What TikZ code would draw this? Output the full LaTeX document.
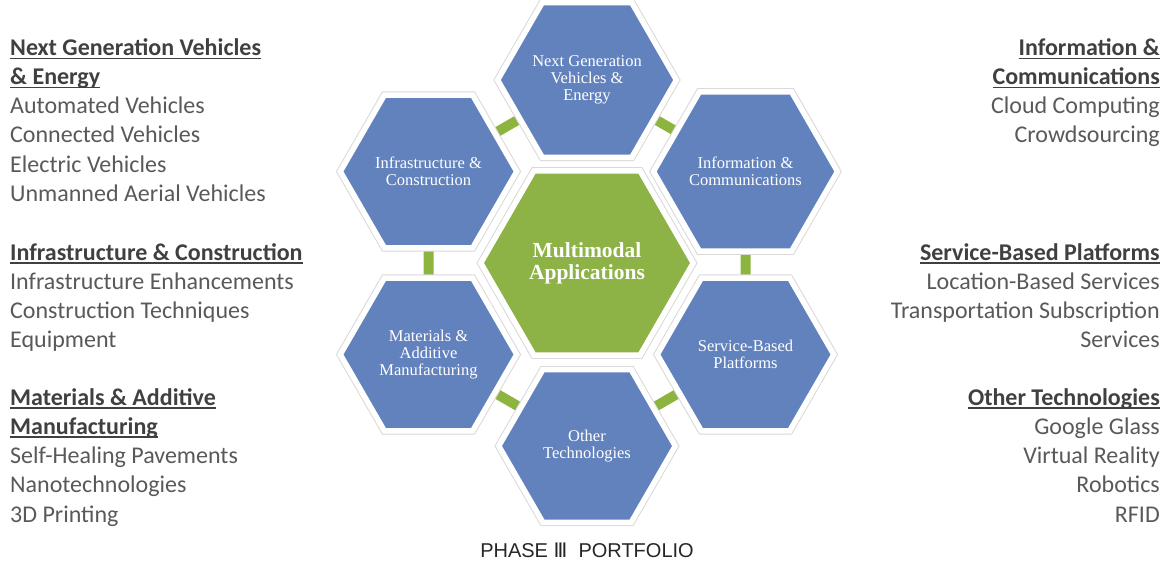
\documentclass[tikz,border=0pt]{standalone}
\usepackage{fontspec}
\setmainfont{Carlito}
\newfontfamily\hexfont{Liberation Serif}
\newfontfamily\capfont{Liberation Sans}
\newfontfamily\numfont{DejaVu Sans}
\usetikzlibrary{shapes.geometric,backgrounds}

\definecolor{hexblue}{RGB}{98,130,190}
\definecolor{hubgreen}{RGB}{141,178,70}
\definecolor{linkgreen}{RGB}{141,180,62}
\definecolor{headgray}{RGB}{64,64,64}
\definecolor{bodygray}{RGB}{89,89,89}

% heading with an underline set just below the baseline
\newsavebox\hdbox
\newcommand\hdline[1]{\sbox\hdbox{#1}\rlap{\rule[-3.5pt]{\wd\hdbox}{1.4pt}}\usebox\hdbox}

\tikzset{
  hexcell/.style={regular polygon, regular polygon sides=6, minimum size=176.5pt,
    inner sep=0pt, outer sep=0pt, fill=hexblue, draw=white, line width=5.5pt,
    preaction={draw=black!15, line width=7.5pt},
    text=white, align=center, font=\hexfont\fontsize{16.5}{17}\selectfont},
  hubcell/.style={hexcell, minimum size=212.5pt, fill=hubgreen,
    font=\hexfont\bfseries\fontsize{21.5}{22}\selectfont},
  link/.style={draw=linkgreen, line width=10pt},
  lefttext/.style={anchor=base west, inner sep=0pt, text=bodygray,
    font=\fontsize{24}{29}\selectfont},
  lefthead/.style={lefttext, text=headgray, font=\bfseries\fontsize{24}{29}\selectfont},
  righttext/.style={lefttext, anchor=base east},
  righthead/.style={lefthead, anchor=base east},
}

\begin{document}
\begin{tikzpicture}[x=1pt, y=-1pt]
\useasboundingbox (0,0) rectangle (1166,564);

% hexagon ring around the hub
\node[hubcell] (hub) at (587,263) {Multimodal\\Applications};
\node[hexcell] (nextgen) at (587,80) {Next Generation\\Vehicles \&\\Energy};
\node[hexcell] (infra)   at (428.5,171.5) {Infrastructure \&\\Construction};
\node[hexcell] (info)    at (745.5,171.5) {Information \&\\Communications};
\node[hexcell] (service) at (745.5,354.5) {Service-Based\\Platforms};
\node[hexcell] (other)   at (587,446) {Other\\Technologies};
\node[hexcell] (mater)   at (428.5,354.5) {Materials \&\\Additive\\Manufacturing};

% green links between neighbouring outer cells
\begin{pgfonlayer}{background}
  \draw[link] (nextgen) -- (info);
  \draw[link] (info) -- (service);
  \draw[link] (service) -- (other);
  \draw[link] (other) -- (mater);
  \draw[link] (mater) -- (infra);
  \draw[link] (infra) -- (nextgen);
\end{pgfonlayer}

% left column
\node[lefthead] (l1) at (10,56)  {\hdline{Next Generation Vehicles}};
\node[lefthead] (l2) at (10,85)  {\hdline{\& Energy}};
\node[lefttext] (l3) at (10,114) {Automated Vehicles};
\node[lefttext] (l4) at (10,143) {Connected Vehicles};
\node[lefttext] (l5) at (10,172) {Electric Vehicles};
\node[lefttext] (l6) at (10,201) {Unmanned Aerial Vehicles};

\node[lefthead] (l7)  at (10,260) {\hdline{Infrastructure \& Construction}};
\node[lefttext] (l8)  at (10,289) {Infrastructure Enhancements};
\node[lefttext] (l9)  at (10,318) {Construction Techniques};
\node[lefttext] (l10) at (10,347) {Equipment};

\node[lefthead] (l11) at (10,405) {\hdline{Materials \& Additive}};
\node[lefthead] (l12) at (10,434) {\hdline{Manufacturing}};
\node[lefttext] (l13) at (10,463) {Self-Healing Pavements};
\node[lefttext] (l14) at (10,492) {Nanotechnologies};
\node[lefttext] (l15) at (10,522) {3D Printing};

% right column
\node[righthead] (r1) at (1160,56)  {\hdline{Information \&}};
\node[righthead] (r2) at (1160,85)  {\hdline{Communications}};
\node[righttext] (r3) at (1160,114) {Cloud Computing};
\node[righttext] (r4) at (1160,143) {Crowdsourcing};

\node[righthead] (r5) at (1160,260) {\hdline{Service-Based Platforms}};
\node[righttext] (r6) at (1160,289) {Location-Based Services};
\node[righttext] (r7) at (1160,318) {Transportation Subscription};
\node[righttext] (r8) at (1160,347) {Services};

\node[righthead] (r9)  at (1160,405) {\hdline{Other Technologies}};
\node[righttext] (r10) at (1160,434) {Google Glass};
\node[righttext] (r11) at (1160,463) {Virtual Reality};
\node[righttext] (r12) at (1160,492) {Robotics};
\node[righttext] (r13) at (1160,522) {RFID};

% caption
\node[anchor=base, inner sep=0pt, text=black!85, font=\capfont\fontsize{20}{21}\selectfont]
  (caption) at (587,557) {PHASE {\numfont Ⅲ}\ \ PORTFOLIO};
\end{tikzpicture}
\end{document}
